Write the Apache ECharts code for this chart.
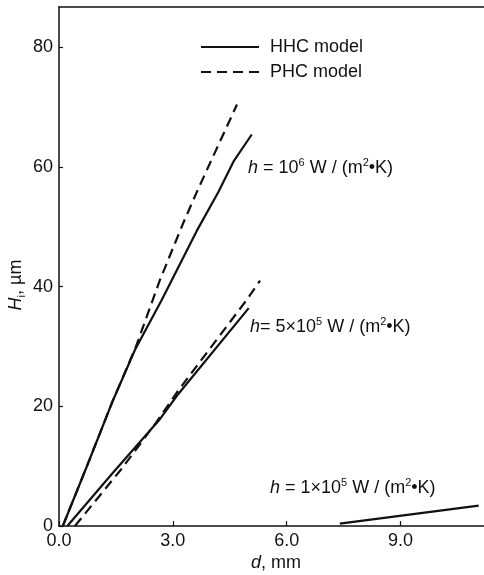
<!DOCTYPE html>
<html>
<head>
<meta charset="utf-8">
<script src="https://cdn.jsdelivr.net/npm/echarts@6/dist/echarts.min.js"></script>
<style>
  html, body { margin: 0; padding: 0; background: #fff; }
  #main { width: 484px; height: 575px; }
</style>
</head>
<body>
<div id="main"></div>
<script>
// 数据：[d (mm), Hi (µm)]
var hhc_1e6 = [[0.10, 0], [0.73, 9.9], [1.39, 20.5], [2.00, 29.4], [2.71, 37.8], [3.63, 49.3], [4.20, 55.8], [4.60, 60.9], [5.08, 65.4]];
var phc_1e6 = [[0.10, 0], [0.73, 9.9], [1.39, 20.5], [2.03, 30.0], [2.66, 41.1], [3.28, 50.7], [3.66, 56.2], [4.69, 70.4]];
var hhc_5e5 = [[0.22, 0], [1.41, 8.8], [2.64, 17.7], [3.15, 22.1], [5.00, 36.4]];
var phc_5e5 = [[0.42, 0], [1.63, 9.4], [2.55, 17.2], [3.15, 22.7], [4.95, 37.8], [5.30, 41.0]];
var hhc_1e5 = [[7.40, 0.4], [11.06, 3.4]];

var xTicks = [0, 3, 6, 9];
var yTicks = [0, 20, 40, 60, 80];

var FONT = 'Liberation Sans, Arial, sans-serif';
var INK = '#111';

var chart = echarts.init(document.getElementById('main'));

function lineSeries(name, data, dashed) {
    return {
        name: name,
        type: 'line',
        data: data,
        showSymbol: false,
        symbol: 'none',
        animation: false,
        lineStyle: {
            color: INK,
            width: 2.2,
            type: dashed ? [10, 6] : 'solid'
        },
        itemStyle: { color: INK }
    };
}

var richLabel = {
    i: { fontStyle: 'italic', fontSize: 18, fontFamily: FONT, lineHeight: 22 },
    sup: { fontSize: 11, fontFamily: FONT, verticalAlign: 'top', lineHeight: 12 },
    sub: { fontSize: 11, fontFamily: FONT, verticalAlign: 'bottom', lineHeight: 12 }
};

function textItem(x, y, text, rot, align) {
    return {
        type: 'text',
        x: x,
        y: y,
        rotation: rot || 0,
        style: {
            text: text,
            rich: richLabel,
            fill: INK,
            fontSize: 18,
            fontFamily: FONT,
            lineHeight: 22,
            align: align || 'left',
            verticalAlign: 'middle'
        }
    };
}

var option = {
    backgroundColor: '#fff',
    animation: false,
    grid: { left: 59, right: 0, top: 7, bottom: 49, containLabel: false },
    legend: {
        orient: 'vertical',
        left: 200,
        top: 37,
        padding: 0,
        itemWidth: 58,
        itemHeight: 14,
        itemGap: 5,
        itemStyle: { opacity: 0 },
        data: ['HHC model', 'PHC model'],
        textStyle: { color: INK, fontSize: 18, fontFamily: FONT, lineHeight: 20, padding: [0, 0, 0, 6] }
    },
    xAxis: [{
        type: 'value',
        min: 0,
        max: 11.2,
        interval: 3,
        axisLine: { show: true, lineStyle: { color: INK, width: 1.5 } },
        axisTick: { show: true, inside: true, length: 5, lineStyle: { color: INK, width: 1.2 } },
        axisLabel: {
            color: INK, fontSize: 18, fontFamily: FONT, margin: 6,
            showMaxLabel: false,
            formatter: function(v) { return xTicks.indexOf(v) >= 0 ? v.toFixed(1) : ''; }
        },
        splitLine: { show: false }
    }, {
        type: 'value',
        position: 'top',
        min: 0,
        max: 11.2,
        axisLine: { show: true, onZero: false, lineStyle: { color: INK, width: 1.5 } },
        axisTick: { show: false },
        axisLabel: { show: false },
        splitLine: { show: false }
    }],
    yAxis: {
        type: 'value',
        min: 0,
        max: 86.7,
        interval: 20,
        axisLine: { show: true, lineStyle: { color: INK, width: 1.5 } },
        axisTick: { show: true, inside: true, length: 4, lineStyle: { color: INK, width: 1.2 } },
        axisLabel: {
            color: INK, fontSize: 18, fontFamily: FONT, margin: 6,
            showMaxLabel: false,
            formatter: function(v) { return yTicks.indexOf(v) >= 0 ? String(v) : ''; }
        },
        splitLine: { show: false }
    },
    series: [
        lineSeries('HHC model', hhc_1e6, false),
        lineSeries('PHC model', phc_1e6, true),
        lineSeries('HHC model', hhc_5e5, false),
        lineSeries('PHC model', phc_5e5, true),
        lineSeries('HHC model', hhc_1e5, false)
    ],
    graphic: [
        textItem(248, 168, '{i|h} = 10{sup|6} W / (m{sup|2}•K)'),
        textItem(250, 327, '{i|h}= 5×10{sup|5} W / (m{sup|2}•K)'),
        textItem(270, 488, '{i|h} = 1×10{sup|5} W / (m{sup|2}•K)'),
        textItem(16, 285, '{i|H}{sub|i}, µm', Math.PI / 2, 'center'),
        textItem(276, 563, '{i|d}, mm', 0, 'center')
    ]
};

chart.setOption(option);
</script>
</body>
</html>
